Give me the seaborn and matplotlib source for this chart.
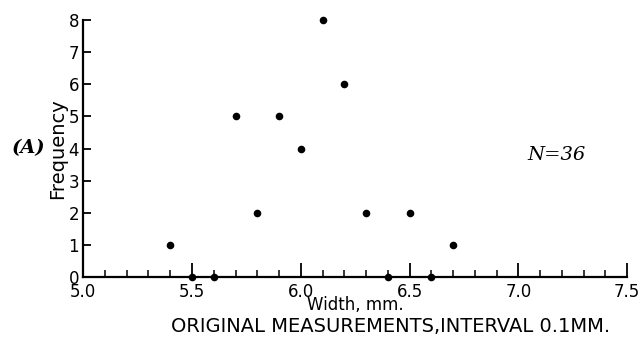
import matplotlib
matplotlib.use("Agg")
import matplotlib.pyplot as plt
import seaborn as sns
import pandas as pd
from matplotlib.ticker import MultipleLocator

width_mm = [5.4, 5.5, 5.6, 5.7, 5.8, 5.9, 6.0, 6.1, 6.2, 6.3, 6.4, 6.5, 6.6, 6.7]
frequency = [1, 0, 0, 5, 2, 5, 4, 8, 6, 2, 0, 2, 0, 1]
x_ticks = [5.0, 5.5, 6.0, 6.5, 7.0, 7.5]
x_tick_labels = ["5.0", "5.5", "6.0", "6.5", "7.0", "7.5"]
y_ticks = [0, 1, 2, 3, 4, 5, 6, 7, 8]

df = pd.DataFrame({"width": width_mm, "freq": frequency})

sns.set_style("white")
plt.rcParams["font.family"] = ["DejaVu Sans"]
plt.rcParams["text.color"] = "black"
plt.rcParams["axes.labelcolor"] = "black"

fig = plt.figure(figsize=(6.4, 3.53), dpi=100)
ax = fig.add_axes([0.13, 0.215, 0.85, 0.728])

sns.scatterplot(data=df, x="width", y="freq", ax=ax, color="black", s=30,
                edgecolor="black", linewidth=0, clip_on=False, zorder=5)

ax.set_xlim(5.0, 7.5)
ax.set_ylim(0, 8)
ax.spines["top"].set_visible(False)
ax.spines["right"].set_visible(False)
for s in ["left", "bottom"]:
    ax.spines[s].set_linewidth(1.6)
    ax.spines[s].set_color("black")

ax.set_xticks(x_ticks)
ax.set_xticklabels(x_tick_labels)
ax.xaxis.set_minor_locator(MultipleLocator(0.1))
ax.set_yticks(y_ticks)
ax.tick_params(axis="x", which="both", bottom=True)
ax.tick_params(axis="y", which="major", left=True)
ax.tick_params(axis="x", which="major", direction="in", length=10, width=1.3, pad=4,
               labelsize=12, colors="black")
ax.tick_params(axis="x", which="minor", direction="in", length=5, width=1.1, colors="black")
ax.tick_params(axis="y", which="major", direction="in", length=6, width=1.3, pad=3,
               labelsize=12, colors="black")

ax.set_xlabel("Width, mm.", fontsize=12, labelpad=-3)
ax.set_ylabel("Frequency", fontsize=14, labelpad=1)

fig.text(0.018, 0.58, "(A)", fontsize=14, fontweight="bold", fontstyle="italic",
         family="DejaVu Serif", ha="left", va="center")
fig.text(0.87, 0.56, "N=36", fontsize=14, fontstyle="italic",
         family="DejaVu Serif", ha="center", va="center")
fig.text(0.61, 0.075, "ORIGINAL MEASUREMENTS,INTERVAL 0.1MM.", fontsize=14,
         ha="center", va="center")

fig.savefig("out.png", dpi=100)
